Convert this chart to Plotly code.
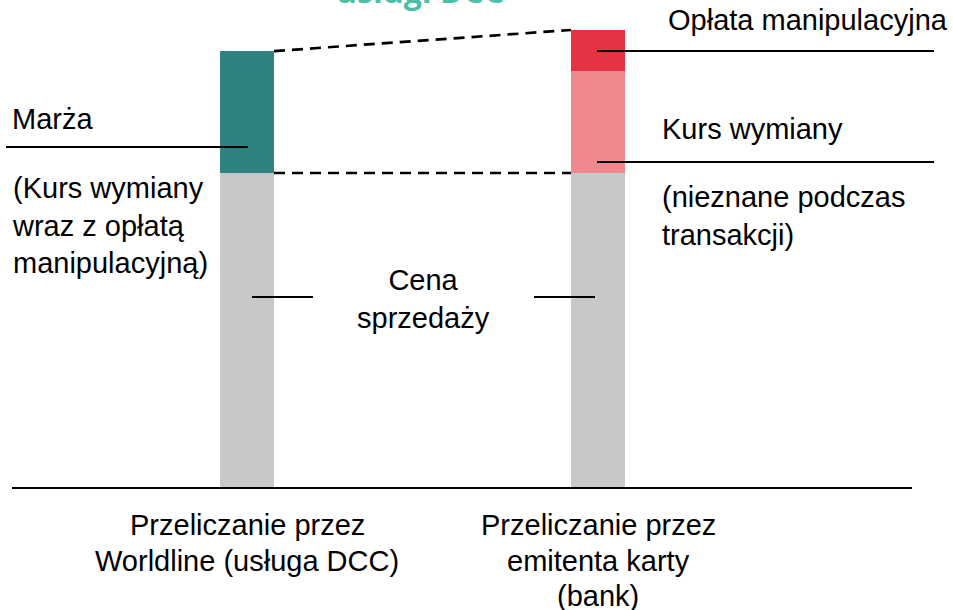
import plotly.graph_objects as go

# ---- data ----
categories = ["Przeliczanie przez<br>Worldline (usługa DCC)",
              "Przeliczanie przez<br>emitenta karty<br>(bank)"]
sale_price = [100, 100]          # Cena sprzedaży
dcc_margin = [38.7, 0]           # Marża (Worldline)
bank_rate = [0, 32.4]            # Kurs wymiany (bank)
bank_fee = [0, 13.0]             # Opłata manipulacyjna (bank)

W, H = 953, 610
FONT = "Liberation Sans, Arial, sans-serif"
FS = 29

def px(x):
    return x / W

def py(y):
    return 1 - y / H

xpos = [0, 1]
bar_w = 0.154
x_range = [-0.7037, 2.0114]
y_range = [-38.73, 154.92]

fig = go.Figure()
fig.add_trace(go.Bar(x=xpos, y=sale_price, width=bar_w, marker_color="#c8c8c8",
                     marker_line_width=0, name="Cena sprzedaży"))
fig.add_trace(go.Bar(x=xpos, y=dcc_margin, width=bar_w, marker_color="#2e827f",
                     marker_line_width=0, name="Marża"))
fig.add_trace(go.Bar(x=xpos, y=bank_rate, width=bar_w, marker_color="#f08890",
                     marker_line_width=0, name="Kurs wymiany"))
fig.add_trace(go.Bar(x=xpos, y=bank_fee, width=bar_w, marker_color="#e63343",
                     marker_line_width=0, name="Opłata manipulacyjna"))

shapes = []
# dashed connectors
dcc_top = sale_price[0] + dcc_margin[0]
bank_top = sale_price[1] + bank_rate[1] + bank_fee[1]
dash_style = dict(color="black", width=2.7, dash="11px,7px")
shapes.append(dict(type="line", xref="x", yref="y",
                   x0=xpos[0] + bar_w / 2, y0=dcc_top,
                   x1=xpos[1] - bar_w / 2, y1=bank_top,
                   line=dash_style))
shapes.append(dict(type="line", xref="x", yref="y",
                   x0=xpos[0] + bar_w / 2, y0=sale_price[0],
                   x1=xpos[1] - bar_w / 2, y1=sale_price[1],
                   line=dash_style))
# baseline
shapes.append(dict(type="line", xref="paper", yref="y",
                   x0=px(12), x1=px(912), y0=0, y1=0,
                   line=dict(color="black", width=2)))
# leader lines
def hline(x0, x1, y):
    shapes.append(dict(type="line", xref="paper", yref="paper",
                       x0=px(x0), x1=px(x1), y0=py(y), y1=py(y),
                       line=dict(color="black", width=2)))

hline(6, 248, 147)
hline(597, 934, 51)
hline(597, 934, 162)
hline(252, 313, 297)
hline(534, 595, 297)

annotations = []
def label(text, x, y, xanchor="left", align="left", size=FS, color="#000000", xref="paper"):
    annotations.append(dict(text=text,
                            xref=xref, yref="paper", x=px(x) if xref == "paper" else x,
                            y=py(y),
                            xanchor=xanchor, yanchor="middle", align=align,
                            showarrow=False,
                            font=dict(family=FONT, size=size, color=color)))

label("Marża", 10, 119)
label("(Kurs wymiany<br>wraz z opłatą<br>manipulacyjną)", 10, 225)
label("Cena<br>sprzedaży", 423, 299, xanchor="center", align="center")
label("Opłata manipulacyjna", 666, 20)
label("Kurs wymiany", 660, 129)
label("(nieznane podczas<br>transakcji)", 660, 216)

# category labels below the bars, one annotation per line
line_y0, line_step = 525, 35.5
for i, c in enumerate(categories):
    for j, part in enumerate(c.split("<br>")):
        label(part, xpos[i], line_y0 + j * line_step, xanchor="center",
              align="center", xref="x")

# clipped title at the top
annotations.append(dict(text="<b>usługi DCC</b>", xref="paper", yref="paper",
                        x=px(420), y=py(14), xanchor="center", yanchor="bottom",
                        showarrow=False,
                        font=dict(family="Open Sans, sans-serif", size=32, color="#4dbfa8")))

fig.update_layout(
    width=W, height=H,
    margin=dict(l=0, r=0, t=0, b=0),
    paper_bgcolor="white", plot_bgcolor="white",
    barmode="stack", showlegend=False,
    xaxis=dict(range=x_range, visible=False, fixedrange=True),
    yaxis=dict(range=y_range, visible=False, fixedrange=True),
    shapes=shapes, annotations=annotations,
)

fig.write_html("out.html", config={"displayModeBar": False},
               post_script="document.body.style.margin='0px';document.body.style.overflow='hidden';")
